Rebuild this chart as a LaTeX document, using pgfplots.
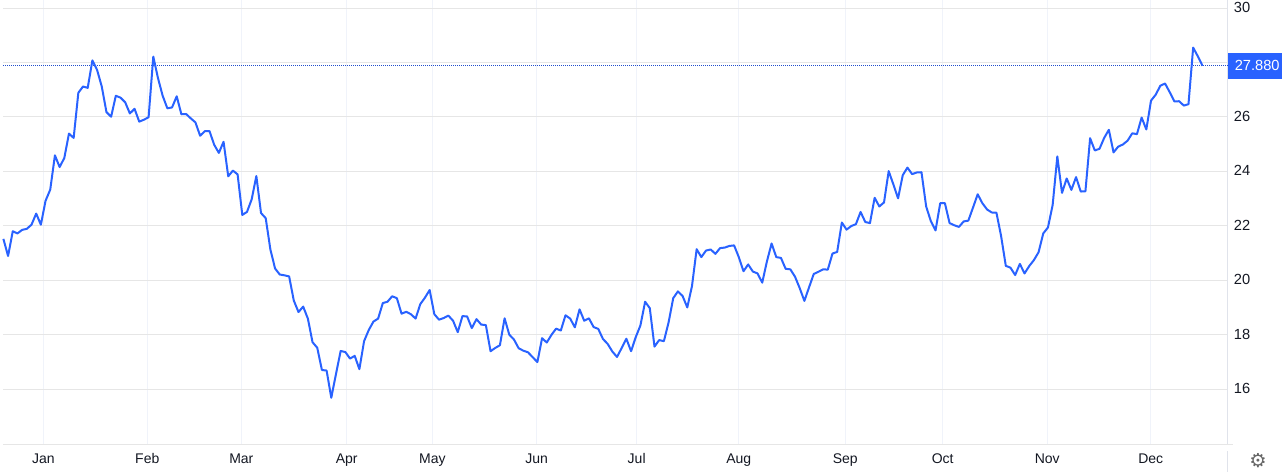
\documentclass[border=0pt]{standalone}
\usepackage{pgfplots}
\pgfplotsset{compat=1.18}
\usepackage{fontspec}
\setmainfont{Liberation Sans}
\newfontfamily\symfont{DejaVu Sans}
\definecolor{line}{HTML}{2962FF}
\definecolor{hgrid}{HTML}{E6E6E6}
\definecolor{vgrid}{HTML}{F0F3FA}
\definecolor{axln}{HTML}{E0E3EB}
\definecolor{lab}{HTML}{131722}
\begin{document}
\begin{tikzpicture}[x=0.75pt,y=0.75pt]
\useasboundingbox (0,0) rectangle (1282,472);
\begin{axis}[
  at={(2.25pt,21pt)},anchor=south west,
  scale only axis,
  width=918.4pt,height=333pt,
  xmin=-0.085,xmax=261.34,
  ymin=13.98,ymax=30.30,
  axis line style={draw=none},
  clip=false,
  tick style={draw=none},
  ytick={16,18,20,22,24,26,28,30},
  yticklabels={16,18,20,22,24,26,,30},
  yticklabel pos=right,
  yticklabel style={font=\fontsize{11pt}{12pt}\selectfont,text=lab,anchor=west,xshift=1.2pt,yshift=0.4pt},
  xtick={8.52,30.72,50.79,73.29,91.57,113.86,135.2,156.98,179.74,200.53,222.86,244.94},
  xticklabels={Jan,Feb,Mar,Apr,May,Jun,Jul,Aug,Sep,Oct,Nov,Dec},
  xticklabel style={font=\fontsize{10.5pt}{12pt}\selectfont,text=lab,anchor=base,yshift=-14.5pt},
  xmajorgrids,ymajorgrids,
  x grid style={vgrid,line width=0.75pt},
  y grid style={hgrid,line width=0.75pt},
  /pgf/number format/assume math mode=true,
]
\addplot[hgrid,line width=0.75pt,forget plot] coordinates {(-0.085,13.98)(262.4,13.98)};
\addplot[axln,line width=0.75pt,forget plot] coordinates {(261.34,30.30)(261.34,13.98)};
\addplot[axln,line width=0.75pt,forget plot] coordinates {(261.34,13.72)(261.34,12.95)};
\addplot[color=line!80!black,line width=0.6pt,dash pattern=on 0.75pt off 0.75pt,forget plot] coordinates {(0,27.88)(261.34,27.88)};
\addplot[line,line width=1.5pt,line join=round] table[x expr=\coordindex,y index=0,header=false] {
21.52
20.89
21.80
21.72
21.85
21.89
22.04
22.45
22.04
22.92
23.33
24.59
24.16
24.49
25.39
25.23
26.89
27.12
27.07
28.08
27.73
27.12
26.18
26.01
26.78
26.71
26.54
26.13
26.30
25.83
25.90
25.99
28.22
27.43
26.78
26.32
26.35
26.76
26.10
26.11
25.95
25.80
25.31
25.48
25.48
24.98
24.68
25.09
23.82
24.03
23.89
22.40
22.51
22.97
23.83
22.47
22.28
21.13
20.43
20.21
20.18
20.14
19.25
18.83
19.03
18.59
17.72
17.52
16.70
16.68
15.68
16.55
17.40
17.36
17.12
17.22
16.73
17.76
18.17
18.48
18.59
19.16
19.21
19.41
19.34
18.77
18.84
18.75
18.59
19.12
19.36
19.64
18.75
18.55
18.61
18.70
18.51
18.09
18.68
18.67
18.24
18.57
18.37
18.35
17.39
17.51
17.61
18.60
18.00
17.82
17.50
17.41
17.35
17.17
16.99
17.87
17.71
17.99
18.22
18.15
18.71
18.59
18.27
18.93
18.51
18.60
18.28
18.21
17.84
17.66
17.38
17.18
17.51
17.85
17.39
17.91
18.34
19.21
18.97
17.56
17.80
17.76
18.44
19.34
19.59
19.42
19.00
19.78
21.14
20.85
21.09
21.13
20.97
21.18
21.20
21.26
21.28
20.85
20.33
20.58
20.32
20.25
19.91
20.69
21.35
20.85
20.82
20.42
20.40
20.13
19.71
19.24
19.74
20.23
20.31
20.40
20.39
20.98
21.04
22.12
21.86
21.99
22.06
22.51
22.14
22.10
23.03
22.71
22.86
24.01
23.52
23.01
23.86
24.14
23.90
23.96
23.97
22.71
22.17
21.83
22.83
22.83
22.10
22.02
21.96
22.16
22.19
22.67
23.16
22.83
22.60
22.49
22.48
21.62
20.53
20.46
20.19
20.60
20.25
20.52
20.74
21.03
21.72
21.94
22.76
24.55
23.21
23.74
23.32
23.79
23.26
23.27
25.22
24.77
24.83
25.23
25.53
24.70
24.91
24.99
25.13
25.40
25.37
25.98
25.54
26.60
26.82
27.15
27.23
26.91
26.57
26.58
26.42
26.47
28.55
28.23
27.88
};
\node[fill=line,inner sep=0pt,minimum width=40.5pt,minimum height=19.5pt,anchor=west] at (axis cs:261.34,27.88) {};
\node[text=white,inner sep=0pt,anchor=west,xshift=5.2pt,font=\fontsize{11pt}{12pt}\selectfont] at (axis cs:261.34,27.88) {27.880};
\node[text=gray!80!black,inner sep=0pt,font=\symfont\fontsize{14.5pt}{14.5pt}\selectfont] at (axis cs:267.85,13.36) {⚙};
\end{axis}
\end{tikzpicture}
\end{document}
